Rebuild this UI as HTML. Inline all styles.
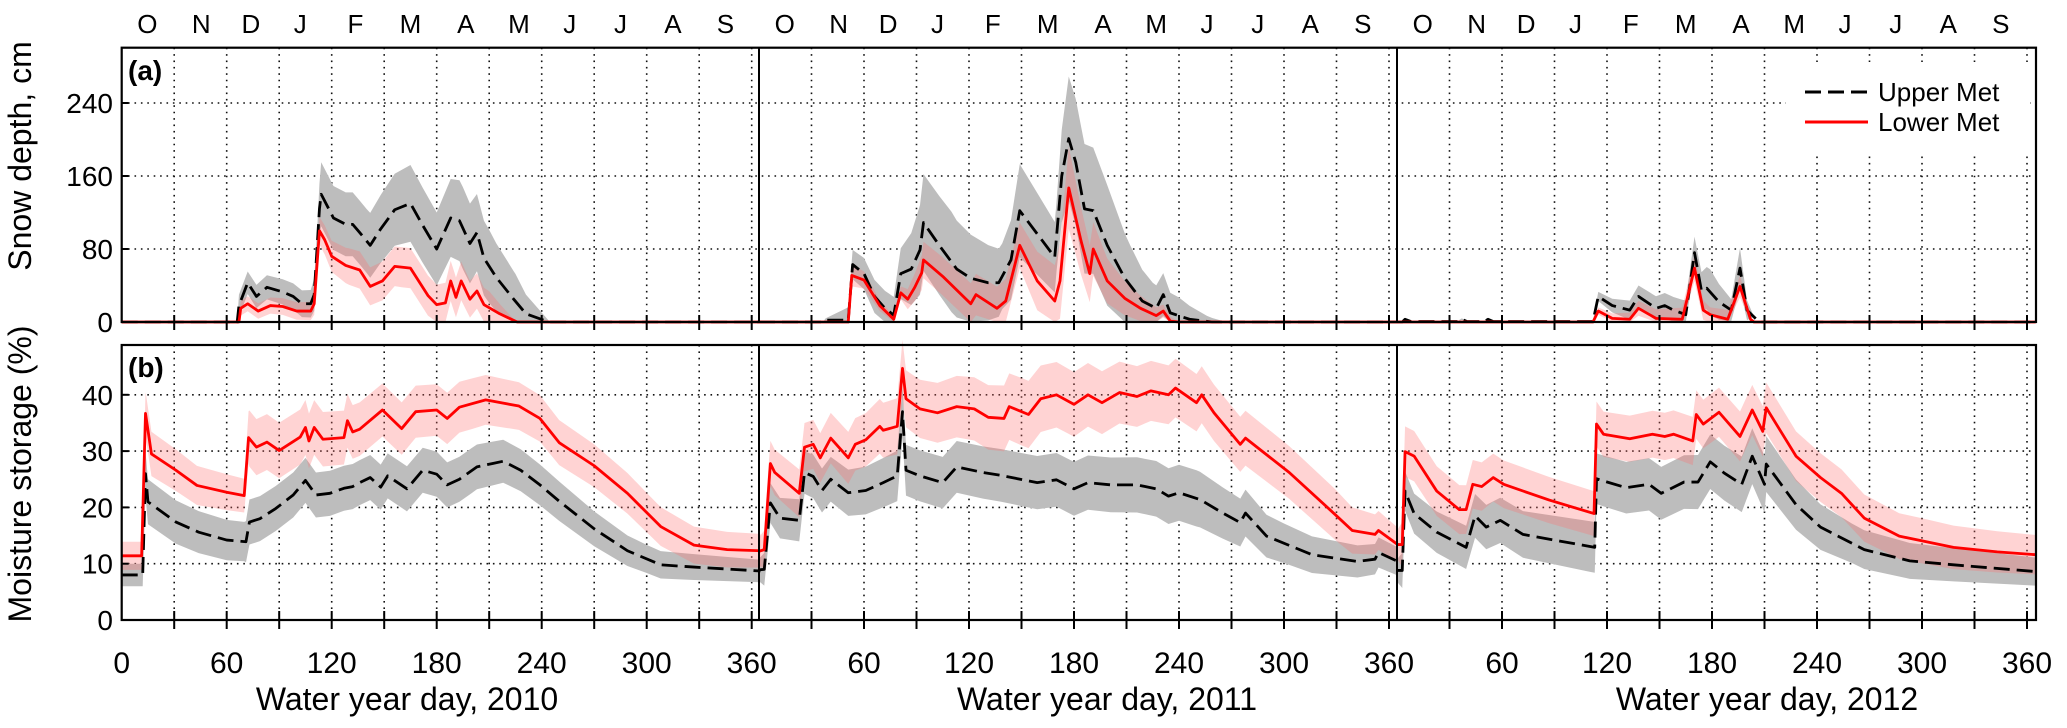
<!DOCTYPE html>
<html><head><meta charset="utf-8"><title>Snow depth and moisture storage</title>
<style>
html,body{margin:0;padding:0;background:#fff;}
svg{display:block;font-family:"Liberation Sans",Arial,sans-serif;}
</style></head>
<body>
<svg id="chart" width="2067" height="728" viewBox="0 0 2067 728" xmlns="http://www.w3.org/2000/svg">
<rect x="0" y="0" width="2067" height="728" fill="#fff"/>
<g id="grid"></g>
<g id="bands"></g>
<g id="lines"></g>
<g id="axes"></g>
<g id="labels"></g>
<g id="legend">
  <rect x="1786" y="62" width="244" height="94" fill="#fff"/>
  <line x1="1805" y1="92" x2="1868" y2="92" stroke="#000" stroke-width="3" stroke-dasharray="16 7"/>
  <text x="1878" y="101" font-size="26">Upper Met</text>
  <line x1="1805" y1="122" x2="1868" y2="122" stroke="#f00" stroke-width="3"/>
  <text x="1878" y="131" font-size="26">Lower Met</text>
</g>
</svg>
<script>
// ---------- data ----------
const monthLabels = ["O","N","D","J","F","M","A","M","J","J","A","S"];
const monthDays = [14.7,45.5,73.8,102,133.6,165,196.6,227,256,285,315,345];
const yearTitles = ["Water year day, 2010","Water year day, 2011","Water year day, 2012"];
const xTickLabelsY1 = [0,60,120,180,240,300,360];
const xTickLabelsY23 = [60,120,180,240,300,360];
const snowTicks = [0,80,160,240];
const moistTicks = [0,10,20,30,40];

// Year 1 snow
const y1SnowUpDays = [0,66,67,72,77,83,92,98,103,108,110,113,114,121,128,132,136,142,148,156,165,172,180,188,193,199,203,207,214,224,231,244,365];
const y1SnowUpVals = [0,0,18,43,28,38,33,28,20,20,30,124,140,114,107,107,98,84,102,123,130,106,80,114,111,86,98,70,49,25,9,0,0];
const y1SnowUpHalfDays = [0,66,67,108,112,114,140,165,180,195,210,225,235,245,365];
const y1SnowUpHalf = [0,0,12,15,20,35,35,42,40,45,40,30,15,0,0];
const y1SnowLoDays = [0,67,68,72,78,85,92,100,108,110,113,116,120,128,136,142,149,156,165,175,180,185,188,191,194,199,203,207,216,226,365];
const y1SnowLoVals = [0,0,15,20,12,18,17,12,12,20,100,90,72,62,57,39,45,61,59,29,19,21,45,27,45,25,34,19,9,0,0];
const y1SnowLoHalfDays = [0,66,68,108,113,130,160,190,210,225,365];
const y1SnowLoHalf = [0,0,8,10,15,20,22,22,18,0,0];
// Year 1 moisture
const y1MoistUpDays = [0,12,13.6,15,31,44,60,71,73,79,88,98,105,111,119,127,132,136,142,148,152,163,172,180,186,193,203,212,218,228,239,250,270,289,308,327,365];
const y1MoistUpVals = [8,8,26,21,17.4,15.6,14.2,13.9,17.4,18,19.8,22.2,24.8,22.2,22.5,23.4,23.7,24.4,25.3,23.6,25.6,23.3,26.6,25.9,24,25,27.2,27.8,28.2,26.6,24,21.1,16.2,12.3,9.8,9.4,8.7];
const y1MoistUpHalfDays = [0,12,14,70,73,200,250,300,365];
const y1MoistUpHalf = [2,2,4,3.5,4,4,3.5,2.5,2];
const y1MoistLoDays = [0,11.4,13.6,17,31,43,60,70,72.5,77,83,90,102,105,107,110,115,127,129,132,136,149,160,168,180,186,193,208,227,239,250,270,289,308,327,346,365];
const y1MoistLoVals = [11.4,11.4,36.7,29.5,26.6,23.9,22.7,22.1,32.4,30.7,31.6,30.1,32.5,34.2,31.8,34.2,32.1,32.4,35.4,33.4,33.9,37.3,34,37,37.3,35.8,37.8,39.1,38,35.8,31.5,27.4,22.5,16.6,13.3,12.5,12.3];
const y1MoistLoHalfDays = [0,12,14,70,73,200,250,300,365];
const y1MoistLoHalf = [2.5,2.5,4,3,5,4.5,4,3.5,3];

// Year 2 snow
const y2SnowUpDays = [0,37,38,48,51,53.5,60,66,72,77,81,87,92,94,103,113,121,131,137,144,149,160,169,173,177,181,186,191,199,209,219,227,231,235,246,259,365];
const y2SnowUpVals = [0,0,2,2,2,63,53,28,15,7.5,53,58,79,109,84,58,48,43,43,68,122,94,71,160,201,175,124,122,84,48,23,15,30,10,3,0,0];
const y2SnowUpHalfDays = [0,37,53,77,94,110,139,149,170,177,186,199,212,225,240,256,267,365];
const y2SnowUpHalf = [0,1,16,20,53,55,36,51,38,68,71,66,44,26,20,6,0,0];
const y2SnowLoDays = [0,51,53,60,69,77,81,85,89,93,94,105,121,124,136,141,149,159,169,172,177,184,189,191,199,209,218,227,231,235,240,365];
const y2SnowLoVals = [0,0,51,46,18,3,32,25,38,54,68,50,20,30,15,23,84,45,23,45,147,89,53,80,45,26,15,7,12,1,0,0];
const y2SnowLoHalfDays = [0,51,53,77,94,149,177,190,210,235,240,365];
const y2SnowLoHalf = [0,0,12,3,20,25,45,30,18,5,0,0];
// Year 2 moisture
const y2MoistUpDays = [0,3,6.5,12,23,26,31,36,41,51,61,71,79,82,84,92,105,113,128,138,159,170,180,188,201,216,227,234,240,252,265,275,278,290,316,342,352,354,365];
const y2MoistUpVals = [8.9,9,20.8,18.1,17.7,26.2,25.5,23,25,22.6,23,24.4,25.6,37,26.6,25.6,24.4,27.2,26.2,25.7,24.4,24.9,23.3,24.4,24,24,23.3,22,22.6,21.4,19,17.3,19,14.9,11.6,10.4,10.8,12,10.4];
const y2MoistUpHalfDays = [0,5,80,250,300,365];
const y2MoistUpHalf = [2,3.5,4.5,5,3.5,2.5];
const y2MoistLoDays = [0,3,6.5,9,23,26,31,35,41,51,55,61,69,71,79,82,84,92,102,113,123,131,140,143,154,161,170,180,188,196,206,216,224,234,238,250,253,260,275,278,303,329,339,352,354,365];
const y2MoistLoVals = [12.2,12.5,27.8,26.2,22.5,30.7,31.2,28.8,32.3,28.8,31.2,32,34.4,33.7,34.4,44.7,39.3,37.5,36.8,37.9,37.5,36,35.8,37.9,36.5,39.3,40,38.3,40,38.6,40.4,39.7,40.7,40,41.2,38.6,40,36.8,31.2,32.3,26.2,18.8,15.9,15.2,15.9,13.4];
const y2MoistLoHalfDays = [0,5,80,150,260,330,365];
const y2MoistLoHalf = [2.5,4,5,6,5,4.5,3];

// Year 3 snow
const y3SnowUpDays = [0,3,4.6,8,10,35,37,40,50,52,55,112,115,123,133,138,148,153,158,165,170,174,177,184,191,196,200,207,365];
const y3SnowUpVals = [0,0,3,0.5,0.5,0.5,3,0.5,0.5,3,0.5,0.5,28,18,13,28,15,18,13,8,76,34,37,22,13,59,13,0,0];
const y3SnowUpHalfDays = [0,112,115,138,163,171,179,191,196,204,365];
const y3SnowUpHalf = [1,1,5,12,15,18,25,12,22,0,0];
const y3SnowLoDays = [0,112,115,123,133,138,148,163,170,175,179,189,196,202,204,365];
const y3SnowLoVals = [0,0,12,4,3,15,4,3,59,13,8,3,39,3,0,0];
const y3SnowLoHalfDays = [0,112,115,170,179,196,204,365];
const y3SnowLoHalf = [0,0,4,14,8,12,0,0];
// Year 3 moisture
const y3MoistUpDays = [0,3,4.6,9.8,22.7,39.5,44.6,51,59,72,113,114,118,131,144,151,164,172,179,187,197,203,210,211,228,242,267,293,318,365];
const y3MoistUpVals = [8.8,8.8,22.9,18.9,15.6,12.9,18.5,16.5,17.7,15.2,12.9,25.1,24.7,23.5,24.1,22.5,24.5,24.5,28.1,26.1,24.1,29.1,24.1,27.7,20.5,16.5,12.5,10.5,9.8,8.6];
const y3MoistUpHalfDays = [0,4,110,114,210,260,365];
const y3MoistUpHalf = [2,3.5,4.5,4.5,5,3.5,2.5];
const y3MoistLoDays = [0,3,4.6,9.8,22.7,35.6,39.5,43.3,48.4,55,61,87,112.6,114,118,133,146,153,158,169,171,175,184,196,203,209,211,228,242,254,267,287,318,343,365];
const y3MoistLoVals = [13.4,13.4,29.9,29.1,22.9,19.6,19.6,24.1,23.7,25.3,24.1,21.3,18.9,34.8,33,32.2,33,32.6,33,31.8,36.5,34.8,36.9,32.6,37.3,33.5,37.7,29.1,25.3,22.5,18.1,14.9,12.9,12.1,11.6];
const y3MoistLoHalfDays = [0,4,110,114,210,300,365];
const y3MoistLoHalf = [2.5,4.5,4,4,4.5,4,3.5];

// ---------- layout / scales ----------
const NS = "http://www.w3.org/2000/svg";
const YEAR_X0 = [121.7, 759, 1397];
const PPD = 1.75;
const PLOT_L = 121.7, PLOT_R = 2036;
const SA = {top: 47.7, bottom: 322, k: 0.9125};
const SB = {top: 345, bottom: 620, k: 5.63};
function xScale(yr, d){ return YEAR_X0[yr] + d * PPD; }
function ySnow(v){ return SA.bottom - v * SA.k; }
function yMoist(v){ return SB.bottom - v * SB.k; }
function mk(tag, attrs, parent){
  const el = document.createElementNS(NS, tag);
  for (const k in attrs) el.setAttribute(k, attrs[k]);
  parent.appendChild(el);
  return el;
}
function interp(ds, vs, d){
  if (d <= ds[0]) return vs[0];
  for (let i = 1; i < ds.length; i++){
    if (d <= ds[i]){
      const t = (d - ds[i-1]) / ((ds[i] - ds[i-1]) || 1);
      return vs[i-1] + t * (vs[i] - vs[i-1]);
    }
  }
  return vs[vs.length - 1];
}

const gGrid = document.getElementById('grid');
const gBands = document.getElementById('bands');
const gLines = document.getElementById('lines');
const gAxes = document.getElementById('axes');
const gLab = document.getElementById('labels');

// ---------- grid ----------
const dotStyle = {stroke:"#111", "stroke-width":1.6, "stroke-dasharray":"1.6 4.8"};
for (let yr = 0; yr < 3; yr++){
  for (let d = 30; d <= 360; d += 30){
    const x = xScale(yr, d);
    [[SA.top, SA.bottom],[SB.top, SB.bottom]].forEach(function(p, pi){
      const ln = mk('line', Object.assign({x1:x, x2:x, y1:p[0], y2:p[1]}, dotStyle), gGrid);
      
      
    });
  }
}
snowTicks.slice(1).forEach(function(v){
  const ln = mk('line', Object.assign({x1:PLOT_L, x2:PLOT_R, y1:ySnow(v), y2:ySnow(v)}, dotStyle), gGrid);
  
  
});
moistTicks.slice(1).forEach(function(v){
  const ln = mk('line', Object.assign({x1:PLOT_L, x2:PLOT_R, y1:yMoist(v), y2:yMoist(v)}, dotStyle), gGrid);
  
  
});

// ---------- series ----------
const seriesList = [
  {yr:0, panel:'snow', site:'upper', d:y1SnowUpDays, v:y1SnowUpVals, hd:y1SnowUpHalfDays, h:y1SnowUpHalf},
  {yr:0, panel:'snow', site:'lower', d:y1SnowLoDays, v:y1SnowLoVals, hd:y1SnowLoHalfDays, h:y1SnowLoHalf},
  {yr:0, panel:'moist', site:'upper', d:y1MoistUpDays, v:y1MoistUpVals, hd:y1MoistUpHalfDays, h:y1MoistUpHalf},
  {yr:0, panel:'moist', site:'lower', d:y1MoistLoDays, v:y1MoistLoVals, hd:y1MoistLoHalfDays, h:y1MoistLoHalf},
  {yr:1, panel:'snow', site:'upper', d:y2SnowUpDays, v:y2SnowUpVals, hd:y2SnowUpHalfDays, h:y2SnowUpHalf},
  {yr:1, panel:'snow', site:'lower', d:y2SnowLoDays, v:y2SnowLoVals, hd:y2SnowLoHalfDays, h:y2SnowLoHalf},
  {yr:1, panel:'moist', site:'upper', d:y2MoistUpDays, v:y2MoistUpVals, hd:y2MoistUpHalfDays, h:y2MoistUpHalf},
  {yr:1, panel:'moist', site:'lower', d:y2MoistLoDays, v:y2MoistLoVals, hd:y2MoistLoHalfDays, h:y2MoistLoHalf},
  {yr:2, panel:'snow', site:'upper', d:y3SnowUpDays, v:y3SnowUpVals, hd:y3SnowUpHalfDays, h:y3SnowUpHalf},
  {yr:2, panel:'snow', site:'lower', d:y3SnowLoDays, v:y3SnowLoVals, hd:y3SnowLoHalfDays, h:y3SnowLoHalf},
  {yr:2, panel:'moist', site:'upper', d:y3MoistUpDays, v:y3MoistUpVals, hd:y3MoistUpHalfDays, h:y3MoistUpHalf},
  {yr:2, panel:'moist', site:'lower', d:y3MoistLoDays, v:y3MoistLoVals, hd:y3MoistLoHalfDays, h:y3MoistLoHalf}
];

function drawBand(s){
  const yf = s.panel === 'snow' ? ySnow : yMoist;
  const set = {};
  s.d.concat(s.hd).forEach(function(d){ if (d >= 0 && d <= 365) set[d] = 1; });
  const days = Object.keys(set).map(Number).sort(function(a,b){return a-b;});
  const top = [], bot = [];
  days.forEach(function(d){
    const m = interp(s.d, s.v, d), h = interp(s.hd, s.h, d);
    const x = xScale(s.yr, d).toFixed(2);
    top.push(x + ',' + yf(m + h).toFixed(2));
    bot.push(x + ',' + yf(Math.max(0, m - h)).toFixed(2));
  });
  const pts = top.concat(bot.reverse()).join(' ');
  const fill = s.site === 'upper' ? '#bdbdbd' : 'rgba(255,110,110,0.30)';
  const p = mk('polygon', {points: pts, fill: fill, stroke: 'none'}, gBands);
  
  
}
function drawLine(s){
  const yf = s.panel === 'snow' ? ySnow : yMoist;
  const pts = s.d.map(function(d, i){ return xScale(s.yr, d).toFixed(2) + ',' + yf(s.v[i]).toFixed(2); }).join(' ');
  const attrs = {points: pts, fill: 'none', 'stroke-width': 2.8, 'stroke-linejoin': 'round'};
  if (s.site === 'upper'){ attrs.stroke = '#000'; attrs['stroke-dasharray'] = '16 7'; }
  else { attrs.stroke = '#f00'; }
  const p = mk('polyline', attrs, gLines);
  
  
}
seriesList.filter(function(s){return s.site==='upper';}).forEach(drawBand);
seriesList.filter(function(s){return s.site==='lower';}).forEach(drawBand);
seriesList.filter(function(s){return s.site==='upper';}).forEach(drawLine);
seriesList.filter(function(s){return s.site==='lower';}).forEach(drawLine);

// ---------- axes ----------
[[SA.top, SA.bottom, 'snow-panel-frame'],[SB.top, SB.bottom, 'moisture-panel-frame']].forEach(function(p){
  const r = mk('rect', {x:PLOT_L, y:p[0], width:PLOT_R-PLOT_L, height:p[1]-p[0], fill:'none', stroke:'#000', 'stroke-width':2.2}, gAxes);
  
  
});
[1, 2].forEach(function(yr){
  [[SA.top, SA.bottom],[SB.top, SB.bottom]].forEach(function(p){
    const l = mk('line', {x1:YEAR_X0[yr], x2:YEAR_X0[yr], y1:p[0], y2:p[1], stroke:'#000', 'stroke-width':2}, gAxes);
    
    
  });
});
for (let yr = 0; yr < 3; yr++){
  for (let d = 30; d <= 360; d += 30){
    const x = xScale(yr, d);
    const t1 = mk('line', {x1:x, x2:x, y1:SA.bottom-7, y2:SA.bottom+8, stroke:'#000', 'stroke-width':2}, gAxes);
    
    
    const t2 = mk('line', {x1:x, x2:x, y1:SB.bottom-9, y2:SB.bottom+9, stroke:'#000', 'stroke-width':2}, gAxes);
    
    
  }
}
snowTicks.forEach(function(v){
  const y = ySnow(v);
  const t = mk('line', {x1:PLOT_L, x2:PLOT_L+7, y1:y, y2:y, stroke:'#000', 'stroke-width':2}, gAxes);
  
  
  const tx = mk('text', {x:113, y:y+10, 'font-size':28, 'text-anchor':'end'}, gLab);
  tx.textContent = v;
  
  
});
moistTicks.forEach(function(v){
  const y = yMoist(v);
  const t = mk('line', {x1:PLOT_L, x2:PLOT_L+7, y1:y, y2:y, stroke:'#000', 'stroke-width':2}, gAxes);
  
  
  const tx = mk('text', {x:113, y:y+10, 'font-size':28, 'text-anchor':'end'}, gLab);
  tx.textContent = v;
  
  
});
for (let yr = 0; yr < 3; yr++){
  const labs = yr === 0 ? xTickLabelsY1 : xTickLabelsY23;
  labs.forEach(function(v){
    const tx = mk('text', {x:xScale(yr, v), y:673, 'font-size':30, 'text-anchor':'middle'}, gLab);
    tx.textContent = v;
    
    
  });
  monthLabels.forEach(function(m, i){
    const tx = mk('text', {x:xScale(yr, monthDays[i]), y:33, 'font-size':26, 'text-anchor':'middle'}, gLab);
    tx.textContent = m;
    
    
  });
}
const titleX = [407, 1107, 1767];
yearTitles.forEach(function(t, i){
  const tx = mk('text', {x:titleX[i], y:710, 'font-size':32, 'text-anchor':'middle'}, gLab);
  tx.textContent = t;
  
  
});
const ya = mk('text', {x:0, y:0, 'font-size':32, 'text-anchor':'middle', transform:'translate(31,156) rotate(-90)'}, gLab);
ya.textContent = 'Snow depth, cm';


const yb = mk('text', {x:0, y:0, 'font-size':32, 'text-anchor':'middle', transform:'translate(31,474) rotate(-90)'}, gLab);
yb.textContent = 'Moisture storage (%)';


const pa = mk('text', {x:128, y:80, 'font-size':28, 'font-weight':'bold'}, gLab);
pa.textContent = '(a)';


const pb = mk('text', {x:128, y:377, 'font-size':28, 'font-weight':'bold'}, gLab);
pb.textContent = '(b)';


</script>
</body></html>
